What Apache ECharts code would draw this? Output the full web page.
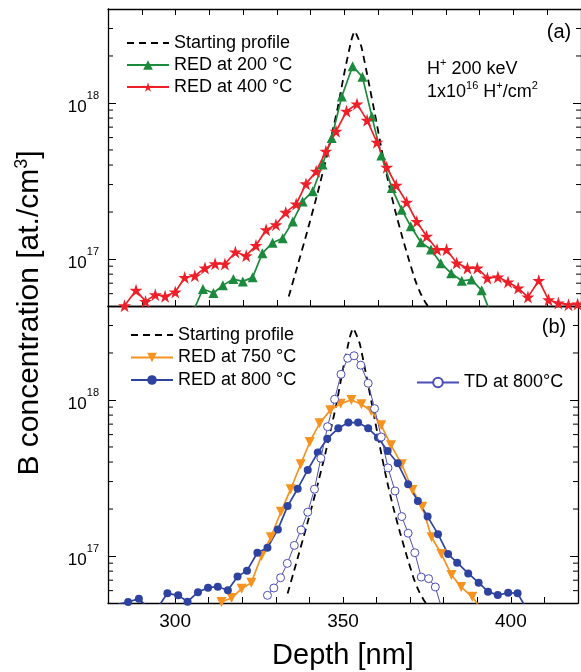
<!DOCTYPE html>
<html>
<head>
<meta charset="utf-8">
<script src="https://cdn.jsdelivr.net/npm/echarts@6/dist/echarts.min.js"></script>
<style>
  html, body { margin: 0; padding: 0; background: #fff; }
  #chart { width: 581px; height: 672px; }
</style>
</head>
<body>
<div id="chart"></div>
<script>
const FONT = '"Liberation Sans", Arial, Helvetica, sans-serif';

// Depth axis (nm)
const depthMin = 280, depthMax = 420, depthStep = 10;
const depthLabels = [300, 350, 400];
// Concentration axis (at./cm^3), logarithmic
const concMin = 5e16, concMax = 4e18;
const minorTicks = [6e16, 7e16, 8e16, 9e16, 2e17, 3e17, 4e17, 5e17, 6e17, 7e17, 8e17, 9e17, 2e18, 3e18];

// As-implanted boron profile (same in both panels)
const startDepth = [333.5, 336, 339, 342, 345, 348, 350, 352, 353, 355, 357, 359, 361, 363, 365, 367, 369, 371, 372.5, 374, 376];
const startConc = [5.75e16, 8.9e16, 1.51e17, 2.63e17, 4.79e17, 9.33e17, 1.58e18, 2.51e18, 2.88e18, 2.29e18, 1.41e18, 8.51e17, 5.01e17, 3.09e17, 2.04e17, 1.41e17, 1.0e17, 7.24e16, 6.03e16, 5.25e16, 4.57e16];

// (a) RED at 200 °C
const red200Depth = [305.2, 308.1, 311.2, 314.0, 317.1, 319.9, 322.8, 325.7, 328.7, 331.7, 334.7, 337.6, 340.6, 343.5, 346.2, 349.2, 352.4, 355.3, 358.1, 360.9, 364.0, 366.9, 369.6, 372.6, 375.6, 378.5, 381.6, 384.7, 387.6, 390.6, 393.6];
const red200Conc = [4.6e16, 6.43e16, 6.06e16, 6.78e16, 7.44e16, 7.19e16, 7.63e16, 1.09e17, 1.27e17, 1.36e17, 1.74e17, 2.34e17, 2.72e17, 4.03e17, 5.97e17, 1.10e18, 1.72e18, 1.47e18, 8.2e17, 4.6e17, 2.85e17, 2.07e17, 1.62e17, 1.28e17, 1.15e17, 9.4e16, 8.1e16, 7.26e16, 7.38e16, 6.3e16, 4.3e16];

// (a) RED at 400 °C
const red400Depth = [284.9, 288.3, 291.1, 294.0, 296.9, 299.9, 302.7, 305.7, 308.7, 311.7, 314.6, 317.7, 320.9, 323.8, 326.8, 329.7, 332.6, 335.7, 338.6, 341.6, 344.5, 347.5, 350.6, 353.7, 356.7, 359.6, 362.5, 365.3, 368.4, 371.4, 374.3, 377.4, 380.2, 383.2, 386.4, 389.3, 392.3, 395.4, 398.4, 401.4, 404.3, 407.5, 410.4, 413.3, 416.3, 419.0];
const red400Conc = [5.02e16, 6.30e16, 5.35e16, 5.91e16, 5.77e16, 6.15e16, 7.62e16, 7.81e16, 8.75e16, 9.33e16, 9.29e16, 1.11e17, 1.05e17, 1.22e17, 1.54e17, 1.66e17, 1.99e17, 2.25e17, 3.03e17, 3.65e17, 4.90e17, 6.58e17, 8.85e17, 9.86e17, 7.74e17, 5.60e17, 3.87e17, 2.97e17, 2.31e17, 1.74e17, 1.40e17, 1.15e17, 1.15e17, 9.43e16, 8.75e16, 8.75e16, 7.55e16, 7.67e16, 7.13e16, 6.52e16, 5.70e16, 7.29e16, 5.48e16, 5.22e16, 5.10e16, 5.15e16];

// (b) RED at 750 °C
const red750Depth = [313.8, 316.8, 319.8, 322.7, 325.7, 328.5, 331.5, 334.4, 337.4, 340.1, 343.0, 346.2, 349.3, 352.5, 355.5, 358.4, 361.4, 364.3, 367.5, 370.7, 373.6, 376.4, 379.3, 382.3, 385.2, 388.5, 391.5];
const red750Conc = [5.07e16, 5.38e16, 6.18e16, 6.75e16, 1.00e17, 1.32e17, 1.92e17, 2.68e17, 3.87e17, 5.38e17, 7.08e17, 8.59e17, 9.47e17, 1.00e18, 9.38e17, 8.5e17, 6.88e17, 5.12e17, 3.87e17, 2.65e17, 2.07e17, 1.32e17, 1.03e17, 7.56e16, 6.33e16, 5.48e16, 4.5e16];

// (b) RED at 800 °C
const red800Depth = [282.9, 286.0, 289.2, 292.1, 294.9, 297.7, 300.9, 303.7, 306.8, 309.8, 312.7, 315.7, 318.6, 321.4, 324.5, 327.5, 330.6, 333.5, 336.5, 339.5, 342.5, 345.3, 348.6, 351.6, 354.5, 357.5, 360.4, 363.3, 366.3, 369.4, 372.3, 375.2, 378.3, 381.3, 384.0, 387.3, 390.4, 393.2, 396.1, 399.2, 402.0, 404.9];
const red800Conc = [4.9e16, 5.07e16, 5.33e16, 4.6e16, 4.7e16, 5.77e16, 5.60e16, 5.10e16, 5.87e16, 6.27e16, 6.36e16, 6.03e16, 7.38e16, 8.06e16, 1.05e17, 1.13e17, 1.48e17, 2.09e17, 2.70e17, 3.56e17, 4.60e17, 5.65e17, 6.58e17, 7.16e17, 7.16e17, 6.58e17, 5.74e17, 4.71e17, 3.93e17, 2.88e17, 2.25e17, 1.79e17, 1.38e17, 1.03e17, 9.06e16, 7.74e16, 6.75e16, 5.91e16, 5.62e16, 5.82e16, 5.77e16, 4.5e16];

// (b) TD at 800 °C
const td800Depth = [327.5, 329.4, 331.4, 333.4, 335.5, 337.5, 339.5, 341.5, 343.4, 345.4, 347.5, 349.4, 351.4, 353.3, 355.3, 357.5, 359.4, 361.4, 363.4, 365.5, 367.5, 369.4, 371.4, 373.3, 375.5, 377.5, 379.5];
const td800Conc = [5.60e16, 6.24e16, 7.26e16, 8.97e16, 1.17e17, 1.47e17, 1.91e17, 2.68e17, 4.23e17, 6.74e17, 1.01e18, 1.46e18, 1.85e18, 1.92e18, 1.67e18, 1.28e18, 8.80e17, 5.79e17, 3.67e17, 2.61e17, 1.79e17, 1.40e17, 1.05e17, 7.33e16, 7.16e16, 6.33e16, 4.55e16];

const zip = (xs, ys) => xs.map((x, i) => [x, ys[i]]);

// five-pointed star marker
const starPath = (() => {
  const pts = [];
  for (let i = 0; i < 10; i++) {
    const a = -Math.PI / 2 + i * Math.PI / 5;
    const r = i % 2 ? 19 : 50;
    pts.push((50 + r * Math.cos(a)).toFixed(2) + ' ' + (50 + r * Math.sin(a)).toFixed(2));
  }
  return 'path://M' + pts.join(' L') + ' Z';
})();

const COLORS = {
  start: '#000000',
  r200: '#1C8A3C',
  r400: '#EE1F28',
  r750: '#F7921E',
  r800: '#2E42A0',
  td800: '#4B4FB8'
};

const axisLineStyle = { color: '#000', width: 1.3 };

function xAxisFor(gridIndex, position, opts) {
  return Object.assign({
    type: 'value', gridIndex, position,
    min: depthMin, max: depthMax, interval: depthStep,
    axisLine: { show: true, onZero: false, lineStyle: axisLineStyle },
    axisTick: { show: true, inside: true, length: 6, lineStyle: { color: '#000', width: 1 } },
    axisLabel: { show: false },
    splitLine: { show: false }
  }, opts || {});
}

function yAxisFor(gridIndex, position, showLabels) {
  return {
    type: 'log', logBase: 10, gridIndex, position,
    min: concMin, max: concMax,
    axisLine: { show: true, onZero: false, lineStyle: axisLineStyle },
    axisTick: { show: true, inside: true, length: 8, lineStyle: { color: '#000', width: 1 } },
    splitLine: { show: false },
    axisLabel: {
      show: showLabels, margin: 9, color: '#000', fontFamily: FONT,
      formatter: v => {
        const e = Math.log10(v), r = Math.round(e);
        return Math.abs(e - r) < 1e-6 ? '{b|10}{s|' + r + '}' : '';
      },
      rich: {
        b: { fontSize: 17, lineHeight: 25, fontFamily: FONT, color: '#000', verticalAlign: 'bottom' },
        s: { fontSize: 11, lineHeight: 12, fontFamily: FONT, color: '#000', verticalAlign: 'top' }
      }
    }
  };
}

// short inner ticks at 2..9 x 10^n on both vertical edges
function minorTickSeries(panel) {
  return {
    type: 'custom', xAxisIndex: panel * 2, yAxisIndex: panel * 2,
    silent: true, clip: false, z: 5,
    data: minorTicks.map(v => [depthMin, v]),
    renderItem(params, api) {
      const v = api.value(1);
      const l = api.coord([depthMin, v]);
      const r = api.coord([depthMax, v]);
      const st = { stroke: '#000', lineWidth: 1 };
      return {
        type: 'group', children: [
          { type: 'line', shape: { x1: l[0], y1: l[1], x2: l[0] + 5, y2: l[1] }, style: st },
          { type: 'line', shape: { x1: r[0] - 5, y1: r[1], x2: r[0], y2: r[1] }, style: st }
        ]
      };
    }
  };
}

function profileSeries(panel) {
  return {
    name: 'Starting profile', type: 'line', xAxisIndex: panel * 2, yAxisIndex: panel * 2,
    data: zip(startDepth, startConc), symbol: 'none', smooth: 0.15,
    lineStyle: { color: COLORS.start, width: 1.8, type: [7, 5] },
    itemStyle: { color: COLORS.start }, z: 2
  };
}

function markedSeries(name, panel, xs, ys, color, symbol, size, extra) {
  return Object.assign({
    name, type: 'line', xAxisIndex: panel * 2, yAxisIndex: panel * 2,
    data: zip(xs, ys), symbol, symbolSize: size, showAllSymbol: true,
    lineStyle: { color, width: 1.7 },
    itemStyle: { color, borderWidth: 0 }, z: 3
  }, extra || {});
}

const legendText = { fontSize: 18, color: '#000', fontFamily: FONT };
const legendBase = {
  orient: 'vertical', itemWidth: 42, itemHeight: 12, itemGap: 4,
  selectedMode: false, textStyle: legendText, padding: 0
};

const supRich = (size, lh, supSize, supLh) => ({
  t: { fontSize: size, lineHeight: lh, fontFamily: FONT, fill: '#000', color: '#000', verticalAlign: 'bottom' },
  u: { fontSize: supSize, lineHeight: supLh, fontFamily: FONT, fill: '#000', color: '#000', verticalAlign: 'top' }
});

const option = {
  animation: false,
  backgroundColor: '#fff',
  textStyle: { fontFamily: FONT },
  grid: [
    { left: 108, top: 9, width: 476, height: 297 },
    { left: 108, top: 306, width: 476, height: 297 }
  ],
  xAxis: [
    xAxisFor(0, 'bottom'),
    xAxisFor(0, 'top'),
    xAxisFor(1, 'bottom', {
      axisLabel: {
        show: true, margin: 9, fontSize: 19, color: '#000', fontFamily: FONT,
        formatter: v => depthLabels.indexOf(v) >= 0 ? String(v) : ''
      },
      name: 'Depth [nm]', nameLocation: 'middle', nameGap: 38,
      nameTextStyle: { fontSize: 29, color: '#000', fontFamily: FONT }
    }),
    xAxisFor(1, 'top', { axisTick: { show: false } })
  ],
  yAxis: [
    yAxisFor(0, 'left', true),
    yAxisFor(0, 'right', false),
    yAxisFor(1, 'left', true),
    yAxisFor(1, 'right', false)
  ],
  legend: [
    Object.assign({}, legendBase, {
      left: 126, top: 34,
      data: [{ name: 'Starting profile', itemStyle: { opacity: 0 } }, 'RED at 200 °C', 'RED at 400 °C']
    }),
    Object.assign({}, legendBase, {
      left: 130, top: 326, itemGap: 4.5,
      data: [{ name: 'Starting profile', itemStyle: { opacity: 0 } }, 'RED at 750 °C', 'RED at 800 °C']
    }),
    Object.assign({}, legendBase, {
      left: 416, top: 373.5,
      data: ['TD at 800°C']
    })
  ],
  graphic: [
    {
      type: 'text', x: 29, y: 313, rotation: Math.PI / 2,
      style: {
        text: '{t|B concentration [at./cm}{u|3}{t|]}',
        align: 'center', verticalAlign: 'middle',
        rich: supRich(30, 32, 18, 20)
      }
    },
    {
      type: 'text', x: 427, y: 68,
      style: {
        text: '{t|H}{u|+}{t| 200 keV}',
        align: 'left', verticalAlign: 'middle',
        rich: supRich(18, 21, 11, 12)
      }
    },
    {
      type: 'text', x: 427, y: 90.5,
      style: {
        text: '{t|1x10}{u|16}{t| H}{u|+}{t|/cm}{u|2}',
        align: 'left', verticalAlign: 'middle',
        rich: supRich(18, 21, 11, 12)
      }
    },
    {
      type: 'text', x: 559, y: 32.5,
      style: { text: '(a)', fontSize: 20, fontFamily: FONT, fill: '#000', align: 'center', verticalAlign: 'middle' }
    },
    {
      type: 'text', x: 554, y: 327,
      style: { text: '(b)', fontSize: 20, fontFamily: FONT, fill: '#000', align: 'center', verticalAlign: 'middle' }
    }
  ],
  series: [
    minorTickSeries(0),
    minorTickSeries(1),
    profileSeries(0),
    markedSeries('RED at 200 °C', 0, red200Depth, red200Conc, COLORS.r200, 'triangle', 10),
    markedSeries('RED at 400 °C', 0, red400Depth, red400Conc, COLORS.r400, starPath, 13),
    profileSeries(1),
    markedSeries('RED at 750 °C', 1, red750Depth, red750Conc, COLORS.r750, 'triangle', 10, { symbolRotate: 180 }),
    markedSeries('RED at 800 °C', 1, red800Depth, red800Conc, COLORS.r800, 'circle', 8),
    markedSeries('TD at 800°C', 1, td800Depth, td800Conc, COLORS.td800, 'circle', 8, {
      lineStyle: { color: COLORS.td800, width: 1 },
      itemStyle: { color: '#fff', borderColor: COLORS.td800, borderWidth: 1 }
    })
  ]
};

const chart = echarts.init(document.getElementById('chart'), null, { renderer: 'canvas' });
chart.setOption(option);
</script>
</body>
</html>
